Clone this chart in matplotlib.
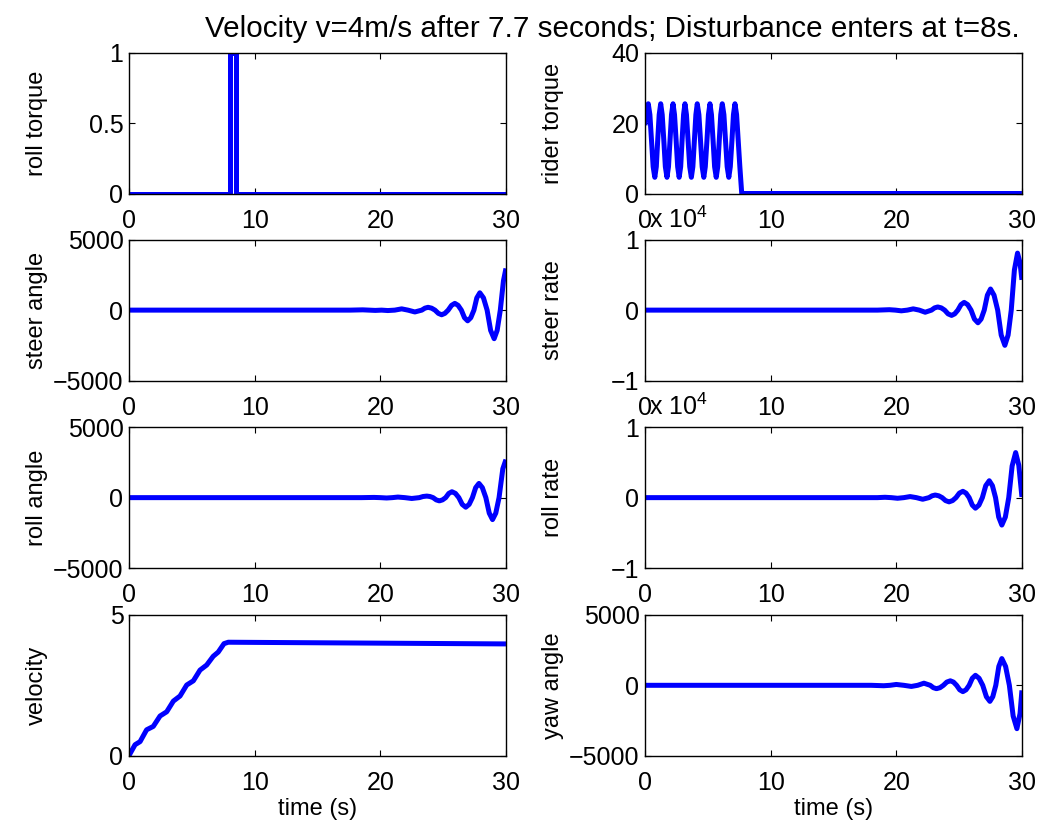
import matplotlib
matplotlib.use("Agg")
import matplotlib.pyplot as plt

plt.rcParams['font.family'] = ['Liberation Sans', 'DejaVu Sans']

# time axis is 0..30 s everywhere
# roll torque pulse (disturbance at t=8s)
roll_torque_t = [0, 8.0, 8.0, 8.5, 8.5, 30]
roll_torque = [0, 0, 1, 1, 0, 0]

# rider torque (oscillating, stops at 7.7 s)
rider_t = [0, 0.13, 0.26,
           0.39, 0.52, 0.65, 0.78, 0.90, 1.01, 1.13, 1.25,
           1.37, 1.50, 1.62, 1.75, 1.87, 1.99, 2.11, 2.23,
           2.35, 2.48, 2.60, 2.72, 2.84, 2.95, 3.07, 3.18,
           3.30, 3.43, 3.56, 3.69, 3.81, 3.93, 4.05, 4.16,
           4.29, 4.42, 4.55, 4.68, 4.80, 4.93, 5.05, 5.17,
           5.29, 5.42, 5.54, 5.67, 5.79, 5.91, 6.03, 6.15,
           6.28, 6.41, 6.54, 6.67, 6.79, 6.92, 7.04, 7.16,
           7.29, 7.42, 7.55, 7.64, 7.70, 30]
rider_torque = [19.4, 24.2, 25.5,
                22.4, 15, 7.6, 4.6, 7.6, 15, 22.4, 25.5,
                22.4, 15, 7.6, 4.6, 7.6, 15, 22.4, 25.5,
                22.4, 15, 7.6, 4.6, 7.6, 15, 22.4, 25.5,
                22.4, 15, 7.6, 4.6, 7.6, 15, 22.4, 25.5,
                22.4, 15, 7.6, 4.6, 7.6, 15, 22.4, 25.5,
                22.4, 15, 7.6, 4.6, 7.6, 15, 22.4, 25.5,
                22.4, 15, 7.6, 4.6, 7.6, 15, 22.4, 25.5,
                22.4, 15, 7.6, 3, 0, 0]

# steer angle
steer_t = [0, 17.6, 18.6, 19.1, 19.6, 20.1, 20.6, 21.15, 21.7, 22.2, 22.75,
           23.3, 23.55, 23.8, 24.08, 24.35, 24.62, 24.88, 25.14, 25.4, 25.67,
           25.93, 26.19, 26.45, 26.7, 26.95, 27.2, 27.45, 27.68, 27.92, 28.21,
           28.5, 28.78, 29.06, 29.3, 29.55, 29.8, 30]
steer_angle = [0, 0, 20, 0, -20, 0, -30, 0, 90, 0, -130,
               0, 140, 200, 140, 0, -230, -330, -230, 0, 340,
               480, 340, 0, -540, -760, -540, 0, 870, 1230, 870,
               0, -1440, -2030, -1440, 0, 2080, 2960]

# steer rate
steer_rate_t = [0, 18.5, 19.45, 19.93, 20.4, 20.88, 21.35, 21.83, 22.3, 22.8,
                23.05, 23.3, 23.58, 23.85, 24.12, 24.4, 24.65, 24.9, 25.15, 25.4,
                25.68, 25.95, 26.22, 26.5, 26.75, 27.0, 27.25, 27.5, 27.78, 28.07,
                28.35, 28.64, 28.9, 29.15, 29.4, 29.65, 29.85, 30]
steer_rate = [0, 0, 60, 0, -100, 0, 180, 0, -300, 0,
              320, 450, 320, 0, -530, -750, -530, 0, 780, 1100,
              780, 0, -1270, -1800, -1270, 0, 2120, 3000, 2120, 0,
              -3540, -5000, -3540, 0, 5700, 8100, 6700, 4300]

# roll angle
roll_t = [0, 18.5, 19.5, 20.0, 20.5, 20.95, 21.4, 21.95, 22.5, 23.1,
          23.4, 23.7, 23.95, 24.2, 24.45, 24.7, 24.95, 25.2, 25.45, 25.7,
          25.98, 26.25, 26.52, 26.8, 27.07, 27.33, 27.59, 27.85, 28.12, 28.4,
          28.67, 28.93, 29.19, 29.45, 29.75, 30]
roll_angle = [0, 0, 15, 0, -25, 0, 40, 0, -60, 0,
              80, 110, 80, 0, -160, -230, -160, 0, 300, 420,
              300, 0, -480, -680, -480, 0, 710, 1010, 710, 0,
              -1100, -1560, -1100, 0, 2050, 2700]

# roll rate
roll_rate_t = [0, 18.5, 19.1, 19.6, 20.1, 20.6, 21.1, 21.6, 22.1, 22.6,
               22.85, 23.1, 23.38, 23.65, 23.92, 24.2, 24.48, 24.75, 25.02, 25.3,
               25.55, 25.8, 26.05, 26.3, 26.58, 26.85, 27.12, 27.4, 27.65, 27.9,
               28.15, 28.4, 28.68, 28.95, 29.22, 29.5, 29.75, 30]
roll_rate = [0, 0, 50, 0, -90, 0, 150, 0, -230, 0,
             260, 370, 260, 0, -420, -600, -420, 0, 640, 900,
             640, 0, -1060, -1500, -1060, 0, 1700, 2400, 1700, 0,
             -2760, -3900, -2760, 0, 4500, 6400, 4600, 100]

# velocity
vel_t = [0, 0.08, 0.48, 0.88, 1.4, 1.93, 2.47, 3.0, 3.53, 4.06, 4.59, 5.12,
         5.65, 6.18, 6.7, 7.1, 7.56, 7.9, 30]
velocity = [0, 0.07, 0.39, 0.5, 0.92, 1.04, 1.41, 1.56, 1.94, 2.12, 2.51, 2.66,
            3.04, 3.22, 3.53, 3.68, 3.98, 4.03, 3.97]

# yaw angle
yaw_t = [0, 18.0, 19.0, 19.5, 20.0, 20.6, 21.2, 21.7, 22.2, 22.7,
         22.95, 23.2, 23.48, 23.75, 24.02, 24.3, 24.55, 24.8, 25.05, 25.3,
         25.55, 25.8, 26.05, 26.3, 26.59, 26.88, 27.17, 27.45, 27.68, 27.92,
         28.16, 28.4, 28.7, 29.0, 29.3, 29.6, 29.85, 30]
yaw_angle = [0, 0, -30, 0, 60, 0, -80, 0, 150, 0,
             -170, -240, -170, 0, 230, 320, 230, 0, -320, -450,
             -320, 0, 500, 710, 500, 0, -810, -1140, -810, 0,
             1340, 1900, 1340, 0, -2180, -3080, -2000, -360]

xticks = [0, 10, 20, 30]
big_ticks = [-5000, 0, 5000]
big_labels = ['\u22125000', '0', '5000']
rate_ticks = [-1e4, 0, 1e4]
rate_labels = ['\u22121', '0', '1']

fig = plt.figure(figsize=(10.43, 8.33), dpi=100)

# subplot positions (MATLAB-like 4x2 grid)
left_x, right_x, w, h = 0.1237, 0.6184, 0.3614, 0.169
rows_y = [0.7677, 0.5432, 0.3181, 0.0928]

panels = [
    (left_x, 0, roll_torque_t, roll_torque, 'roll torque', (0, 1), [0, 0.5, 1], ['0', '0.5', '1']),
    (right_x, 0, rider_t, rider_torque, 'rider torque', (0, 40), [0, 20, 40], ['0', '20', '40']),
    (left_x, 1, steer_t, steer_angle, 'steer angle', (-5000, 5000), big_ticks, big_labels),
    (right_x, 1, steer_rate_t, steer_rate, 'steer rate', (-1e4, 1e4), rate_ticks, rate_labels),
    (left_x, 2, roll_t, roll_angle, 'roll angle', (-5000, 5000), big_ticks, big_labels),
    (right_x, 2, roll_rate_t, roll_rate, 'roll rate', (-1e4, 1e4), rate_ticks, rate_labels),
    (left_x, 3, vel_t, velocity, 'velocity', (0, 5), [0, 5], ['0', '5']),
    (right_x, 3, yaw_t, yaw_angle, 'yaw angle', (-5000, 5000), big_ticks, big_labels),
]

for x0, r, t, y, label, ylim, yt, ytl in panels:
    ax = fig.add_axes([x0, rows_y[r], w, h])
    ax.plot(t, y, color='#0000ff', lw=3.6, solid_joinstyle='round', solid_capstyle='butt')
    ax.set_xlim(0, 30)
    ax.set_ylim(*ylim)
    ax.set_xticks(xticks)
    ax.set_xticklabels([str(v) for v in xticks])
    ax.set_yticks(yt)
    ax.set_yticklabels(ytl)
    ax.tick_params(direction='in', top=True, right=True, length=4, width=0.8,
                   labelsize=18)
    ax.tick_params(axis='x', pad=11)
    ax.tick_params(axis='y', pad=4)
    for s in ax.spines.values():
        s.set_linewidth(1.0)
    ax.set_ylabel(label, fontsize=17)
    ax.yaxis.set_label_coords(-0.215, 0.5)
    if r == 3:
        ax.set_xlabel('time (s)', fontsize=17, labelpad=2)
    if ylim[1] == 1e4:
        ax.text(0.01, 1.085, 'x 10$^{\\mathregular{4}}$', transform=ax.transAxes,
                fontsize=18, ha='left', va='baseline')

fig.text(0.587, 1 - 37 / 833, 'Velocity v=4m/s after 7.7 seconds; Disturbance enters at t=8s.',
         ha='center', va='baseline', fontsize=21.3)

fig.savefig('out.png', dpi=100)
